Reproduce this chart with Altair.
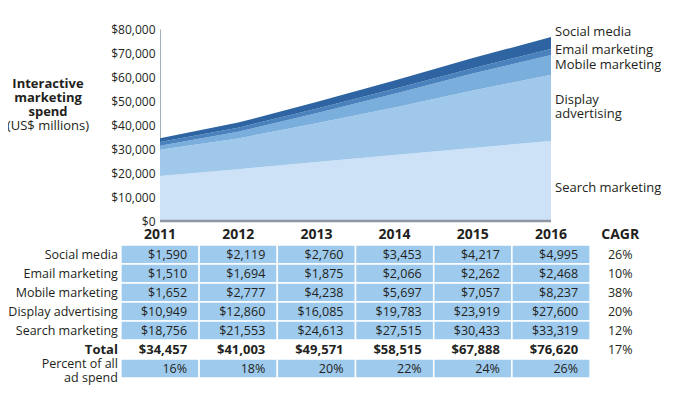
import altair as alt
import pandas as pd

years = [2011, 2012, 2013, 2014, 2015, 2016]
series = ["Search marketing", "Display advertising", "Mobile marketing",
          "Email marketing", "Social media"]
social = [1590, 2119, 2760, 3453, 4217, 4995]
email = [1510, 1694, 1875, 2066, 2262, 2468]
mobile = [1652, 2777, 4238, 5697, 7057, 8237]
display = [10949, 12860, 16085, 19783, 23919, 27600]
search = [18756, 21553, 24613, 27515, 30433, 33319]
total = [34457, 41003, 49571, 58515, 67888, 76620]
pct_all = [16, 18, 20, 22, 24, 26]
table_rows = ["Social media", "Email marketing", "Mobile marketing",
              "Display advertising", "Search marketing"]
cagr_rows = table_rows + ["Total"]
cagr = [26, 10, 38, 20, 12, 17]
colors = ["#cde2f6", "#a0c8ea", "#7aaedd", "#4a82bd", "#2d64a1"]

FONT = "Open Sans"
TXT = "#231f20"
CELL = "#9ecaed"

vals = {"Social media": social, "Email marketing": email, "Mobile marketing": mobile,
        "Display advertising": display, "Search marketing": search}

area_df = pd.DataFrame([
    dict(series=s, ord=i, year=y, value=v)
    for i, s in enumerate(series) for y, v in zip(years, vals[s])
])

# table data
cells = []
for r in table_rows:
    for y, v in zip(years, vals[r]):
        cells.append(dict(row=r, year=y, txt=f"${v:,}", bold=0, fill=1))
for y, v in zip(years, total):
    cells.append(dict(row="Total", year=y, txt=f"${v:,}", bold=1, fill=0))
for y, v in zip(years, pct_all):
    cells.append(dict(row="Percent", year=y, txt=f"{v}%", bold=0, fill=1))
cell_df = pd.DataFrame(cells)
cell_df["x0"] = cell_df["year"] - 0.5
cell_df["x1"] = cell_df["year"] + 0.5

hdr_df = pd.DataFrame({"row": ["hdr"] * len(years), "year": years,
                       "txt": [str(y) for y in years]})
cagr_df = pd.DataFrame({"row": cagr_rows, "txt": [f"{c}%" for c in cagr]})
rowlab_df = pd.DataFrame({"row": table_rows})

x_scale = alt.Scale(domain=[2011, 2016], nice=False, zero=False)
y_area = alt.Scale(domain=[0, 80000], range=[192, 0], nice=False, zero=False)
row_domain = ["hdr"] + table_rows + ["Total", "Percent"]
y_tab = alt.Scale(domain=row_domain, range=[197, 349], paddingInner=0, paddingOuter=0)

X = alt.X("year:Q", scale=x_scale, axis=None)
y_axis = alt.Axis(format="$,.0f", values=list(range(0, 80001, 10000)),
                  tickSize=0, labelPadding=5, grid=False,
                  domainColor="#a4acb4", domainWidth=1,
                  labelFont=FONT, labelFontSize=12, labelColor=TXT,
                  title=None)

area = alt.Chart(area_df).mark_area(interpolate="linear").encode(
    x=X,
    y=alt.Y("value:Q", stack="zero", scale=y_area, axis=y_axis),
    color=alt.Color("series:N", scale=alt.Scale(domain=series, range=colors), legend=None),
    order=alt.Order("ord:Q"),
)

baseline = alt.Chart(pd.DataFrame({"a": [years[0]], "b": [years[-1]], "v": [0]})).mark_rule(
    color="#8e979f", strokeWidth=2.5
).encode(x=alt.X("a:Q", scale=x_scale, axis=None), x2="b:Q",
         y=alt.Y("v:Q", scale=y_area, axis=y_axis))

lab_base = alt.Chart(area_df).transform_filter(
    "datum.year == 2016"
).transform_stack(
    stack="value", groupby=["year"], as_=["y0", "y1"], sort=[alt.SortField("ord")]
).transform_calculate(mid="(datum.y0 + datum.y1) / 2")


def side_label(names, dy, **kw):
    flt = " || ".join(f"datum.series == '{n}'" for n in names)
    return lab_base.transform_filter(flt).mark_text(
        align="left", baseline="middle", dx=4, dy=dy, font=FONT, fontSize=13,
        color=TXT, **kw
    ).encode(x=X, y=alt.Y("mid:Q", scale=y_area, axis=y_axis), text="series:N")


labels = [
    side_label(["Social media"], -11),
    side_label(["Email marketing"], -2),
    side_label(["Mobile marketing"], 0),
    side_label(["Display advertising"], -8, lineBreak=" ", lineHeight=14),
    side_label(["Search marketing"], 7),
]

title_bold = alt.Chart(pd.DataFrame({"t": ["Interactive marketing spend"]})).mark_text(
    align="center", baseline="middle", font=FONT, fontSize=13, fontWeight="bold",
    color=TXT, lineBreak=" ", lineHeight=14
).encode(x=alt.value(-112), y=alt.value(55), text="t:N")
title_norm = alt.Chart(pd.DataFrame({"t": ["(US$ millions)"]})).mark_text(
    align="center", baseline="middle", font=FONT, fontSize=13, color=TXT
).encode(x=alt.value(-112), y=alt.value(97), text="t:N")

area_group = alt.layer(area, baseline, *labels)

Y = alt.Y("row:N", scale=y_tab, axis=None)

rects = alt.Chart(cell_df).transform_filter("datum.fill == 1").mark_rect(
    color=CELL, stroke="white", strokeWidth=1.5
).encode(x=alt.X("x0:Q", scale=x_scale, axis=None), x2="x1:Q", y=Y)

cell_txt = alt.Chart(cell_df).transform_filter("datum.bold == 0").mark_text(
    align="right", baseline="middle", dx=-12, font=FONT, fontSize=12.5, color=TXT
).encode(x=alt.X("x1:Q", scale=x_scale, axis=None), y=Y, text="txt:N")

total_txt = alt.Chart(cell_df).transform_filter("datum.bold == 1").mark_text(
    align="right", baseline="middle", dx=-12, font=FONT, fontSize=13,
    fontWeight="bold", color=TXT
).encode(x=alt.X("x1:Q", scale=x_scale, axis=None), y=Y, text="txt:N")

hdr_txt = alt.Chart(hdr_df).mark_text(
    align="center", baseline="middle", dy=-1, font=FONT, fontSize=14,
    fontWeight="bold", color=TXT
).encode(x=X, y=Y, text="txt:N")

row_lab = alt.Chart(rowlab_df).mark_text(
    align="right", baseline="middle", dx=-3, font=FONT, fontSize=12.5, color=TXT
).encode(x=alt.datum(2010.5, scale=x_scale), y=Y, text="row:N")

total_lab = alt.Chart(pd.DataFrame({"row": ["Total"]})).mark_text(
    align="right", baseline="middle", dx=-3, font=FONT, fontSize=13,
    fontWeight="bold", color=TXT
).encode(x=alt.datum(2010.5, scale=x_scale), y=Y, text="row:N")

pct_lab = alt.Chart(pd.DataFrame({"row": ["Percent"], "t": ["Percent of all|ad spend"]})).mark_text(
    align="right", baseline="middle", dx=-3, dy=-5, font=FONT, fontSize=12.5, color=TXT,
    lineBreak="|", lineHeight=14
).encode(x=alt.datum(2010.5, scale=x_scale), y=Y, text="t:N")

cagr_hdr = alt.Chart(pd.DataFrame({"row": ["hdr"], "t": ["CAGR"]})).mark_text(
    align="center", baseline="middle", dx=-9, dy=-1, font=FONT, fontSize=14,
    fontWeight="bold", color=TXT
).encode(x=alt.datum(2017, scale=x_scale), y=Y, text="t:N")

cagr_txt = alt.Chart(cagr_df).mark_text(
    align="center", baseline="middle", dx=-9, font=FONT, fontSize=12.5, color=TXT
).encode(x=alt.datum(2017, scale=x_scale), y=Y, text="txt:N")

table_group = alt.layer(rects, cell_txt, total_txt, hdr_txt, row_lab, total_lab,
                        pct_lab, cagr_hdr, cagr_txt, title_bold, title_norm)

chart = alt.layer(area_group, table_group).resolve_scale(y="independent").properties(
    width=391, height=350,
    autosize=alt.AutoSizeParams(type="none"),
    padding={"left": 152, "top": 21, "right": 110, "bottom": 10},
).configure_view(stroke=None)

chart.save("out.html", embed_options={"renderer": "svg", "actions": False})
